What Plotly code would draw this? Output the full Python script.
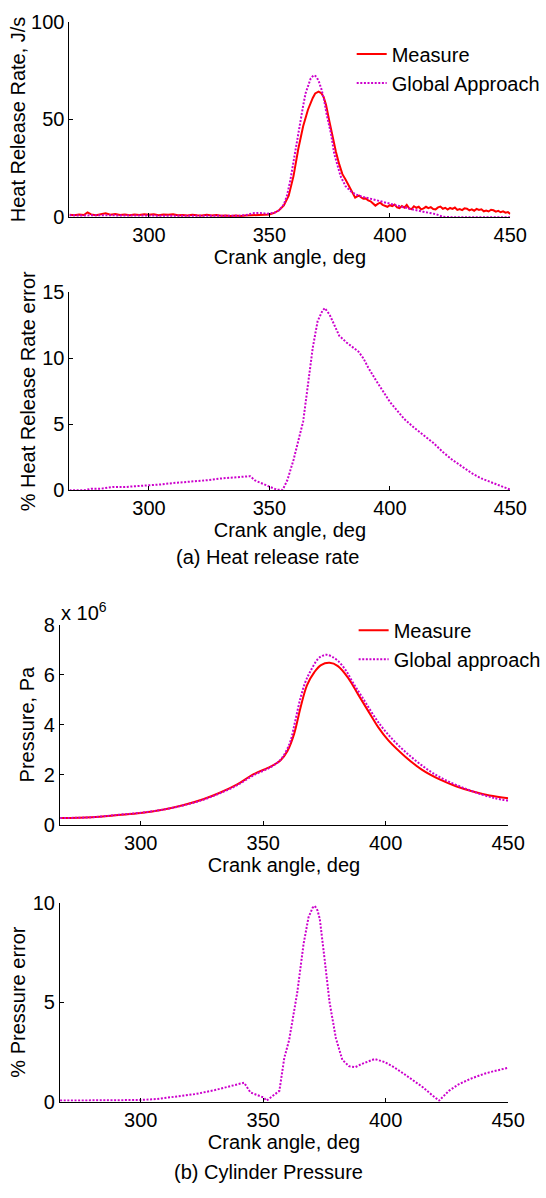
import plotly.graph_objects as go

# ---------------- data ----------------
# (a) Heat release rate, J/s
hrr_meas_deg = [267, 269, 271, 273, 274.5, 276, 278, 280, 282, 284, 286, 288, 290, 292, 294, 296, 298,
                300, 302, 304, 306, 308, 310, 312, 314, 316, 318, 320, 322, 324, 326, 328, 330, 332,
                334, 336, 338, 340, 342, 344, 346, 348, 350, 352, 354, 356, 358, 360, 362, 364, 366,
                368, 369, 370.4, 371.5, 372.5, 373.5, 375, 376.3, 377.6, 379, 380.3, 381.6, 383, 384.3,
                385.6, 386.5, 387.3, 388, 389, 390, 391, 392, 393, 394, 395, 396, 397, 398, 399,
                400, 401, 402, 403, 404, 405, 406, 407, 408, 409, 410, 411, 412, 413, 414, 415,
                416, 417, 418, 419, 420, 421, 422, 423, 424, 425, 426, 427, 428, 429, 430, 431,
                432, 433, 434, 435, 436, 437, 438, 439, 440, 441, 442, 443, 444, 445, 446, 447,
                448, 449, 450]
hrr_meas = [1.2, 1.0, 1.3, 1.1, 2.4, 1.4, 1.0, 1.6, 2.0, 1.2, 1.6, 1.1, 1.4, 1.0, 1.3, 1.1, 1.5,
            1.2, 1.5, 1.0, 1.4, 1.2, 1.5, 1.0, 1.1, 0.8, 1.2, 1.0, 0.9, 1.2, 0.8, 1.1, 0.7, 0.9,
            0.6, 0.8, 0.6, 0.8, 0.9, 1.1, 1.0, 1.3, 1.4, 2.2, 3.5, 6.0, 11.0, 21.0, 35.0, 46.5, 55.0,
            61.0, 63.3, 64.2, 63.5, 61.5, 57.5, 48.5, 40.5, 33.5, 27.0, 22.0, 19.3, 16.0, 12.6,
            10.0, 10.6, 11.0, 10.2, 9.4, 9.6, 8.6, 8.1, 7.2, 5.9, 6.8, 7.4, 6.3, 5.7, 5.3,
            6.1, 5.6, 6.4, 5.0, 4.6, 5.7, 4.9, 6.3, 4.5, 4.1, 5.6, 4.8, 5.3, 4.0, 4.5, 5.3,
            4.6, 5.1, 4.2, 4.0, 5.0, 5.4, 4.3, 4.8, 3.9, 4.7, 4.2, 4.9, 3.7, 4.1, 3.6, 4.5,
            4.3, 3.5, 4.0, 3.3, 4.2, 3.7, 4.0, 3.0, 3.4, 2.9, 3.8, 3.5, 2.8, 3.2, 2.5, 3.0,
            2.3, 2.6, 1.7]

hrr_glob_deg = [267, 272, 277, 282, 287, 292, 297, 302, 307, 312, 317, 322, 327, 332, 337, 341, 343,
                346, 349, 352, 354, 356, 357.3, 358.7, 360.1, 361.5, 362.9, 364, 365, 366, 367.1,
                368.2, 368.8, 369.7, 370.6, 371.6, 372.7, 373.7, 374.8, 375.6, 376.9, 378.3, 379.6,
                381.6, 383.6, 385.7, 388.4, 392.4, 397.8, 403.1, 408.5, 413.8, 417, 419.2, 421.9,
                425, 450]
hrr_glob = [1.0, 0.8, 1.0, 0.8, 0.9, 0.8, 0.8, 0.7, 0.7, 0.6, 0.6, 0.6, 0.5, 0.6, 0.7, 1.2, 2.0,
            2.2, 1.7, 2.2, 3.5, 6.5, 11.0, 19.0, 29.6, 39.5, 49.8, 57.0, 63.3, 67.5, 70.9,
            72.5, 72.6, 71.5, 69.2, 65.5, 60.0, 53.0, 47.0, 42.5, 32.5, 25.8, 20.8,
            15.9, 13.4, 11.7, 10.5, 9.3, 7.5, 5.9, 4.2, 2.8, 2.0, 1.5, 0.2,
            0.0, 0.0]

hrr_err_deg = [267, 270, 273, 276, 280, 285, 290, 295, 300, 305, 310, 315, 320, 325, 330, 335, 340,
               342, 344, 347, 350, 353, 355.5, 357.5, 360, 362, 364, 366, 368, 370, 372, 373, 375,
               377, 379, 382, 385, 387, 389, 391, 394, 397, 400, 403, 406, 410, 414, 418, 422, 426,
               430, 434, 438, 442, 446, 450]
hrr_err = [0, 0, 0, 0.12, 0.12, 0.25, 0.25, 0.32, 0.37, 0.45, 0.55, 0.62, 0.7, 0.78, 0.9, 0.97, 1.05,
           1.07, 0.75, 0.5, 0.3, 0.05, 0.03, 0.8, 2.3, 3.7, 5.2, 8.0, 10.8, 12.8, 13.6, 13.8, 13.3,
           12.5, 11.7, 11.2, 10.8, 10.5, 10.0, 9.3, 8.4, 7.5, 6.7, 6.05, 5.4, 4.75, 4.2, 3.6, 2.9, 2.3,
           1.8, 1.3, 0.9, 0.6, 0.35, 0.05]

# (b) Cylinder pressure, x 10^6 Pa
p_meas_deg = [267.2, 280, 291, 300, 308.9, 317.2, 325.5, 332.3, 339.2, 346.1, 353, 357.1, 359.9,
              362.6, 365.2, 367.9, 370.9, 373.6, 377.1, 380.5, 384.6, 388.8, 392.9, 397, 401.1,
              408, 414.9, 421.8, 428.7, 435.6, 442.4, 450]
p_meas = [0.27, 0.3, 0.39, 0.47, 0.6, 0.78, 1.02, 1.28, 1.6, 2.02, 2.32, 2.58, 2.95,
          3.62, 4.67, 5.58, 6.1, 6.38, 6.47, 6.34, 5.88, 5.2, 4.54, 3.89, 3.37,
          2.72, 2.19, 1.82, 1.54, 1.33, 1.17, 1.06]

p_glob_deg = [267.2, 280, 291, 300, 308.9, 317.2, 325.5, 332.3, 339.2, 346.1, 353, 357.1, 359.9,
              361.2, 363.2, 365.2, 367.2, 369.1, 372.4, 374.4, 376, 378, 380.5, 383.7, 386.5,
              390.2, 398.1, 407.4, 420.5, 433.7, 444.2, 450]
p_glob = [0.27, 0.3, 0.4, 0.48, 0.6, 0.77, 1.0, 1.26, 1.57, 1.98, 2.3, 2.6, 3.05,
          3.36, 4.2, 5.06, 5.7, 6.1, 6.63, 6.76, 6.79, 6.72, 6.55, 6.17, 5.7,
          5.13, 3.95, 2.97, 1.99, 1.4, 1.07, 0.97]

p_err_deg = [267.1, 277.6, 289, 299.7, 306.6, 314.5, 322.4, 330.3, 336.9, 342.2, 344.8, 347.5,
             350.1, 351.4, 353.5, 355.3, 356.6, 358.0, 358.6, 360.6, 363.9, 366.5, 368.5, 370.2,
             371.1, 372.2, 373.1, 375.1, 377.1, 379.7, 382.3, 385, 387.6, 390.2, 392.9, 395.5,
             399.5, 403.4, 407.4, 411.3, 415.3, 419.2, 421.8, 425.8, 429.8, 435.1, 440.3, 444.2, 450]
p_err = [0.05, 0.05, 0.06, 0.08, 0.13, 0.25, 0.38, 0.58, 0.79, 0.95, 0.46, 0.33,
         0.21, 0.05, 0.25, 0.38, 0.54, 1.69, 2.19, 3.1, 5.48, 7.94, 9.26, 9.75,
         9.83, 9.6, 9.18, 7.12, 4.98, 3.17, 2.1, 1.78, 1.73, 1.89, 2.02, 2.14,
         1.99, 1.73, 1.4, 1.04, 0.71, 0.3, 0.05, 0.54, 0.87, 1.17, 1.4, 1.53, 1.7]

x_range = [267, 450]
x_ticks = [300, 350, 400, 450]

# ---------------- styling ----------------
W, H = 546, 1198
FONT = "Liberation Sans, Arial, sans-serif"
FS = 20
RED = "#FF0000"
MAG = "#CC00CC"
DOT = "2px,1.6px"


def px_x(p):
    return p / W


def px_y(p):
    return 1 - p / H


fig = go.Figure()

fig.add_trace(go.Scatter(x=hrr_meas_deg, y=hrr_meas, mode="lines", name="Measure",
                         line=dict(color=RED, width=2), xaxis="x", yaxis="y", legend="legend"))
fig.add_trace(go.Scatter(x=hrr_glob_deg, y=hrr_glob, mode="lines", name="Global Approach",
                         line=dict(color=MAG, width=2, dash=DOT), xaxis="x", yaxis="y", legend="legend"))
fig.add_trace(go.Scatter(x=hrr_err_deg, y=hrr_err, mode="lines", showlegend=False,
                         line=dict(color=MAG, width=2, dash=DOT), xaxis="x2", yaxis="y2"))
fig.add_trace(go.Scatter(x=p_meas_deg, y=p_meas, mode="lines", name="Measure", line_shape="spline",
                         line=dict(color=RED, width=2), xaxis="x3", yaxis="y3", legend="legend2"))
fig.add_trace(go.Scatter(x=p_glob_deg, y=p_glob, mode="lines", name="Global approach", line_shape="spline",
                         line=dict(color=MAG, width=2, dash=DOT), xaxis="x3", yaxis="y3", legend="legend2"))
fig.add_trace(go.Scatter(x=p_err_deg, y=p_err, mode="lines", showlegend=False,
                         line=dict(color=MAG, width=2, dash=DOT), xaxis="x4", yaxis="y4"))

base = dict(showline=True, linecolor="black", linewidth=1, ticks="inside", ticklen=4,
            tickcolor="black", showgrid=False, zeroline=False, mirror=False,
            tickfont=dict(size=FS, color="black", family=FONT))

xdom12 = [px_x(71.7), px_x(526.7)]
xdom34 = [px_x(61.8), px_x(524.5)]
xtitle = dict(text="Crank angle, deg", font=dict(size=FS, color="black", family=FONT), standoff=0)


def xa(dom, anchor):
    return dict(base, domain=dom, anchor=anchor, range=x_range, tickvals=x_ticks, title=xtitle)


def ya(dom, anchor, rng, ticks, title, standoff):
    return dict(base, domain=dom, anchor=anchor, range=rng, tickvals=ticks,
                title=dict(text=title, font=dict(size=FS, color="black", family=FONT), standoff=standoff))


fig.update_layout(
    width=W, height=H, margin=dict(l=0, r=0, t=0, b=0),
    paper_bgcolor="white", plot_bgcolor="white",
    font=dict(family=FONT, size=FS, color="black"),
    xaxis=xa(xdom12, "y"),
    yaxis=ya([px_y(210), px_y(11)], "x", [0, 100], [0, 50, 100], "Heat Release Rate, J/s", 0),
    xaxis2=xa(xdom12, "y2"),
    yaxis2=ya([px_y(488.3), px_y(286.5)], "x2", [0, 15], [0, 5, 10, 15], "% Heat Release Rate error", 1),
    xaxis3=xa(xdom34, "y3"),
    yaxis3=ya([px_y(829), px_y(625)], "x3", [0, 8], [0, 2, 4, 6, 8], "Pressure, Pa", 3),
    xaxis4=xa(xdom34, "y4"),
    yaxis4=ya([px_y(1111), px_y(908.3)], "x4", [0, 10], [0, 5, 10], "% Pressure error", 1),
    legend=dict(x=px_x(363), y=px_y(24), xanchor="left", yanchor="top", bgcolor="rgba(0,0,0,0)",
                font=dict(size=FS, color="black", family=FONT), borderwidth=0, tracegroupgap=0),
    legend2=dict(x=px_x(365), y=px_y(611), xanchor="left", yanchor="top", bgcolor="rgba(0,0,0,0)",
                 font=dict(size=FS, color="black", family=FONT), borderwidth=0, tracegroupgap=0),
    annotations=[
        dict(text="x 10<sup>6</sup>", xref="paper", yref="paper", x=px_x(61), y=px_y(627),
             xanchor="left", yanchor="bottom", showarrow=False, font=dict(size=FS, color="black", family=FONT)),
        dict(text="(a) Heat release rate", xref="paper", yref="paper", x=px_x(276), y=px_y(556),
             xanchor="center", yanchor="middle", showarrow=False, font=dict(size=FS, color="black", family=FONT)),
        dict(text="(b) Cylinder Pressure", xref="paper", yref="paper", x=px_x(277), y=px_y(1183),
             xanchor="center", yanchor="middle", showarrow=False, font=dict(size=FS, color="black", family=FONT)),
    ],
)

fig.write_html("out.html", config={"displayModeBar": False},
               post_script="document.body.style.margin='0';document.body.style.overflow='hidden';")
